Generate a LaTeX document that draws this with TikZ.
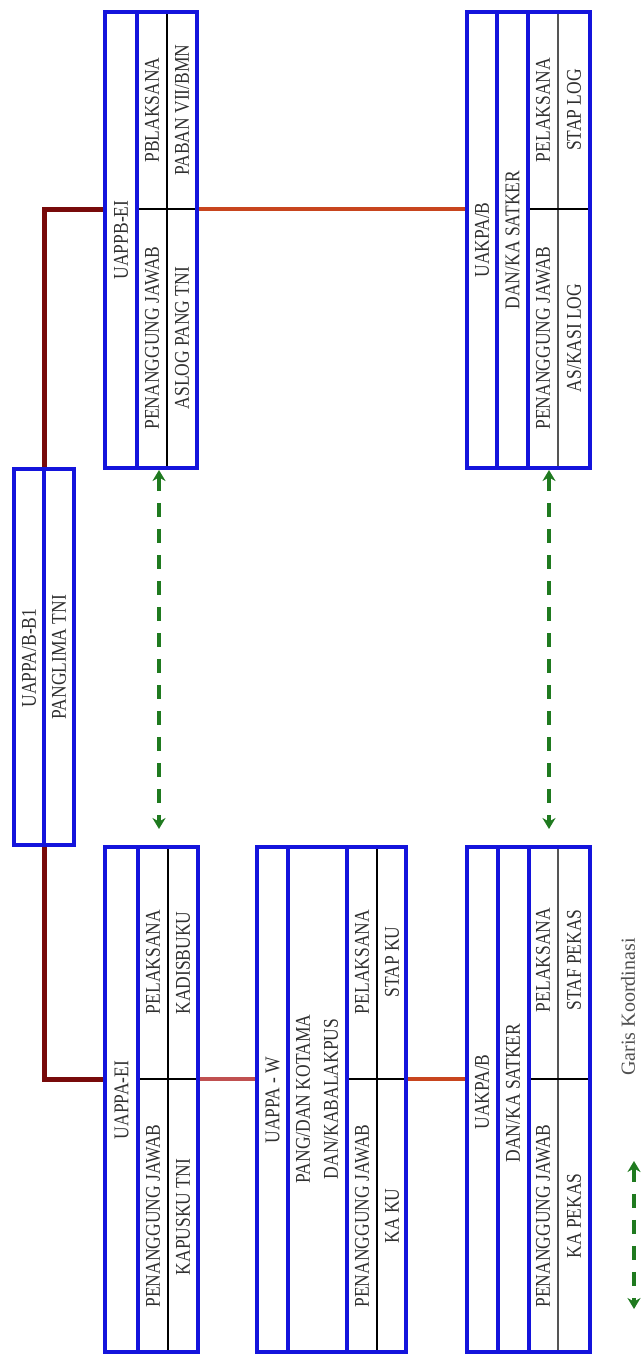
\documentclass[tikz,border=0pt]{standalone}
\usepackage{fontspec}
\setmainfont{Liberation Serif}
\usetikzlibrary{arrows.meta}
\definecolor{bxblue}{HTML}{1414DC}
\definecolor{cdred}{HTML}{780A0A}
\definecolor{corange}{HTML}{C8451E}
\definecolor{cpink}{HTML}{C05050}
\definecolor{cgreen}{HTML}{1F7A1F}
\definecolor{txtc}{HTML}{303030}
\definecolor{gline}{HTML}{555555}
\newcommand\lbtxt[1]{\scalebox{1}[1.2]{#1}}
\begin{document}
\begin{tikzpicture}[x=1pt,y=-1pt,
  box/.style={draw=bxblue,line width=4pt,rectangle,inner sep=0pt,outer sep=2pt,fill=none},
  bdiv/.style={draw=bxblue,line width=4pt},
  kdiv/.style={draw=black,line width=1.6pt},
  gdiv/.style={draw=gline,line width=2pt},
  hdiv/.style={draw=black,line width=2.5pt},
  lbl/.style={rotate=90,inner sep=0pt,text=txtc,font=\fontsize{17.5}{20}\selectfont},
  lgl/.style={rotate=90,inner sep=0pt,text=txtc!85,font=\fontsize{20}{24}\selectfont},
  cdr/.style={draw=cdred,line width=5pt},
  cor/.style={draw=corange,line width=4pt},
  cpk/.style={draw=cpink,line width=4pt},
  garrow/.style={draw=cgreen,line width=3.5pt,dash pattern=on 14pt off 12pt,
     {Stealth[length=11pt,width=13pt]}-{Stealth[length=11pt,width=13pt]}},
]
\useasboundingbox (0,0) rectangle (644,1355);

% ---- thin inner lines (drawn first, boxes cover their ends)
% top-left UAPPB-EI
\draw[kdiv] (167,12) -- (167,468);
\draw[hdiv] (137,209) -- (197,209);
% top-right UAKPA/B
\draw[gdiv] (558,12) -- (558,468);
\draw[hdiv] (528,209) -- (590,209);
% bottom-left UAPPA-EI
\draw[kdiv] (168,847) -- (168,1352);
\draw[hdiv] (138,1079) -- (198,1079);
% bottom-middle UAPPA-W
\draw[kdiv] (377,847) -- (377,1352);
\draw[hdiv] (347,1079) -- (406,1079);
% bottom-right UAKPA/B
\draw[gdiv] (558,847) -- (558,1352);
\draw[hdiv] (529,1079) -- (590,1079);

% ---- blue dividers
\draw[bdiv] (137,12) -- (137,468);
\draw[bdiv] (497,12) -- (497,468);
\draw[bdiv] (528,12) -- (528,468);
\draw[bdiv] (44,469) -- (44,845);
\draw[bdiv] (138,847) -- (138,1352);
\draw[bdiv] (288,847) -- (288,1352);
\draw[bdiv] (347,847) -- (347,1352);
\draw[bdiv] (498,847) -- (498,1352);
\draw[bdiv] (529,847) -- (529,1352);

% ---- boxes
\node[box,minimum width=92pt,minimum height=456pt] (b1) at (151,240) {};
\node[box,minimum width=123pt,minimum height=456pt] (b2) at (528.5,240) {};
\node[box,minimum width=60pt,minimum height=376pt] (b0) at (44,657) {};
\node[box,minimum width=93pt,minimum height=505pt] (b3) at (151.5,1099.5) {};
\node[box,minimum width=149pt,minimum height=505pt] (b4) at (331.5,1099.5) {};
\node[box,minimum width=123pt,minimum height=505pt] (b5) at (528.5,1099.5) {};

% ---- texts
% b1
\node[lbl] (t11) at (121,240) {\lbtxt{UAPPB-EI}};
\node[lbl] (t12) at (152,110) {\lbtxt{PBLAKSANA}};
\node[lbl] (t13) at (152,338) {\lbtxt{PENANGGUNG JAWAB}};
\node[lbl] (t14) at (182,110) {\lbtxt{PABAN VII/BMN}};
\node[lbl] (t15) at (182,338) {\lbtxt{ASLOG PANG TNI}};
% b2
\node[lbl] (t21) at (482,240) {\lbtxt{UAKPA/B}};
\node[lbl] (t22) at (512.5,240) {\lbtxt{DAN/KA SATKER}};
\node[lbl] (t23) at (543,110) {\lbtxt{PELAKSANA}};
\node[lbl] (t24) at (543,338) {\lbtxt{PENANGGUNG JAWAB}};
\node[lbl] (t25) at (574,110) {\lbtxt{STAP LOG}};
\node[lbl] (t26) at (574,338) {\lbtxt{AS/KASI LOG}};
% b0
\node[lbl] (t01) at (29,658) {\lbtxt{UAPPA/B-B1}};
\node[lbl] (t02) at (59,657) {\lbtxt{PANGLIMA TNI}};
% b3
\node[lbl] (t31) at (121.5,1100) {\lbtxt{UAPPA-EI}};
\node[lbl] (t32) at (153,962) {\lbtxt{PELAKSANA}};
\node[lbl] (t33) at (153,1216) {\lbtxt{PENANGGUNG JAWAB}};
\node[lbl] (t34) at (183,963) {\lbtxt{KADISBUKU}};
\node[lbl] (t35) at (183,1217) {\lbtxt{KAPUSKU TNI}};
% b4
\node[lbl] (t41) at (272.5,1100) {\lbtxt{UAPPA - W}};
\node[lbl] (t42) at (303,1099) {\lbtxt{PANG/DAN KOTAMA}};
\node[lbl] (t43) at (331,1099) {\lbtxt{DAN/KABALAKPUS}};
\node[lbl] (t44) at (362,962) {\lbtxt{PELAKSANA}};
\node[lbl] (t45) at (362,1216) {\lbtxt{PENANGGUNG JAWAB}};
\node[lbl] (t46) at (392,962) {\lbtxt{STAP KU}};
\node[lbl] (t47) at (392,1216) {\lbtxt{KA KU}};
% b5
\node[lbl] (t51) at (482,1092) {\lbtxt{UAKPA/B}};
\node[lbl] (t52) at (513,1093) {\lbtxt{DAN/KA SATKER}};
\node[lbl] (t53) at (543,960) {\lbtxt{PELAKSANA}};
\node[lbl] (t54) at (543,1216) {\lbtxt{PENANGGUNG JAWAB}};
\node[lbl] (t55) at (574,960) {\lbtxt{STAF PEKAS}};
\node[lbl] (t56) at (574,1216) {\lbtxt{KA PEKAS}};

% ---- connectors
\coordinate (rowtop) at (0,209);
\coordinate (rowbot) at (0,1079);
\draw[cdr] (b1.west |- rowtop) -| (b0.north);
\draw[cdr] (b0.south) |- (b3.west |- rowbot);
\draw[cor] (b1.east |- rowtop) -- (b2.west |- rowtop);
\draw[cpk] (b3.east |- rowbot) -- (b4.west |- rowbot);
\draw[cor] (b4.east |- rowbot) -- (b5.west |- rowbot);

% ---- coordination arrows
\coordinate (ax1) at (159,0);
\coordinate (ax2) at (549,0);
\draw[garrow,shorten >=16pt] (b1.south -| ax1) -- (b3.north -| ax1);
\draw[garrow,shorten >=16pt] (b2.south -| ax2) -- (b5.north -| ax2);

% ---- legend
\coordinate (lg1) at (634,1161);
\coordinate (lg2) at (634,1309);
\draw[garrow] (lg1) -- (lg2);
\node[lgl] (lgt) at (628,1007) {Garis Koordinasi};
\end{tikzpicture}
\end{document}
